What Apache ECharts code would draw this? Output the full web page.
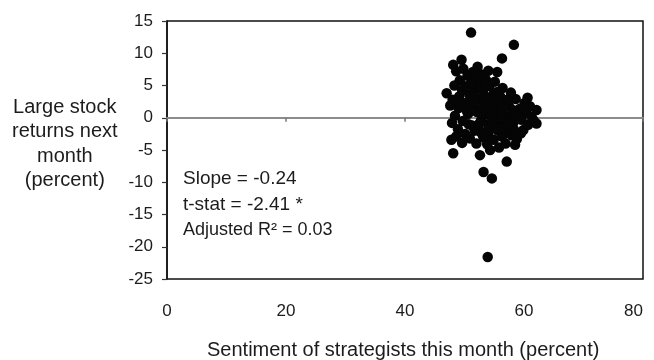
<!DOCTYPE html>
<html>
<head>
<meta charset="utf-8">
<script src="https://cdn.jsdelivr.net/npm/echarts@6/dist/echarts.min.js"></script>
<style>
  html, body { margin: 0; padding: 0; background: #fff; }
  #chart { width: 654px; height: 360px; }
</style>
</head>
<body>
<div id="chart"></div>
<script>
// Strategist sentiment (percent) vs. large stock return the following month (percent)
const sentiment = [
  51.1, 58.3, 56.3, 55.5, 60.6, 53.9, 54.6, 53.2, 57.1, 48.1, 52.6, 54.3, 58.5, 62.1, 59.9, 62.1, 49.5, 48.1, 47.0, 47.8, 52.0,
  48.6, 49.8, 50.5, 49.2, 48.3, 50.9, 51.8, 52.5, 49.6, 50.8, 48.0, 51.9, 52.9, 53.6, 53.1, 54.2, 54.8, 50.2, 49.0, 51.5,
  52.4, 53.8, 55.3, 56.0, 56.8, 57.5, 58.6, 59.3, 60.4, 61.0, 57.8, 56.4, 55.1, 54.0, 52.2,
  48.4, 49.7, 50.6, 51.3, 52.1, 52.8, 53.5, 54.1, 54.7, 55.4, 56.1, 56.7, 57.4, 58.2, 58.9, 59.6, 61.3, 60.7,
  48.9, 50.1, 50.9, 52.7, 53.3, 54.0, 54.9, 55.6, 56.3, 57.0, 57.9, 58.8, 53.8, 55.8, 56.9, 49.6, 55.2, 51.7,
  53.0, 54.5, 55.9, 52.3, 53.9, 55.0, 56.5, 54.2, 55.5, 53.3, 51.1, 57.2, 58.1, 50.0, 51.4, 49.1, 47.6, 47.9, 48.6, 58.3, 59.5, 60.1, 61.6,
  50.4, 51.6, 52.7, 53.4, 54.4, 55.7, 56.6, 57.6, 49.4, 50.7, 52.0, 53.7, 54.9, 56.2, 57.3, 51.2, 52.5, 54.6, 55.4, 53.1
];
const nextReturn = [
  13.2, 11.3, 9.2, 7.1, 3.1, -21.6, -9.4, -8.4, -6.8, -5.5, -5.8, -5.0, -4.2, -0.9, -1.9, 1.2, 9.0, 8.2, 3.8, -3.4, -4.0,
  7.2, 7.6, 6.5, 5.8, 5.0, 5.1, 6.3, 5.5, 4.2, 3.6, 2.8, 4.4, 6.7, 5.9, 4.2, 4.9, 3.6, 2.3, 1.5, 2.0,
  2.9, 2.6, 2.1, 3.3, 2.4, 1.7, 2.9, 1.4, 0.8, 1.8, 3.9, 4.6, 5.6, 7.3, 7.9,
  0.3, -0.5, 0.6, -1.2, 0.9, -0.4, 0.7, -1.0, 0.4, -0.6, 0.9, -1.3, 0.2, -0.8, 0.5, -0.3, 0.1, -1.1,
  -1.8, -2.5, -3.2, -2.2, -3.1, -2.6, -3.4, -2.0, -2.9, -2.1, -2.7, -3.3, -4.1, -4.6, -4.0, -3.9, -1.5, -2.0,
  1.6, 1.9, 1.2, -1.4, -1.9, -0.2, 0.0, 3.0, 4.0, 3.4, 1.1, 2.8, 1.2, 4.9, 7.1, 3.3, 1.9, -0.8, -2.9, -1.8, -2.4, 2.3, -0.4,
  1.0, 3.1, 4.8, 2.2, 0.2, 2.7, 1.6, -0.3, 2.1, -1.0, 6.0, 5.0, 1.0, -1.7, -1.0, 5.3, -0.9, -0.4, 3.2, -2.8
];

const xTicks = { min: 0, max: 80, step: 20 };
const yTicks = { min: -25, max: 15, step: 5 };

const yTitleLines = ['Large stock', 'returns next', 'month', '(percent)'];
const xTitle = 'Sentiment of strategists this month (percent)';
const statLines = ['Slope = -0.24', 't-stat = -2.41 *', 'Adjusted R\u00B2 = 0.03'];

const points = sentiment.map((x, i) => [x, nextReturn[i]]);

const FONT = '"Liberation Sans", Arial, sans-serif';
const INK = '#1c1c1c';

const chart = echarts.init(document.getElementById('chart'), null, { renderer: 'canvas' });

chart.setOption({
  animation: false,
  backgroundColor: '#ffffff',
  grid: {
    left: 167, right: 11, top: 21, bottom: 81,
    show: true, borderColor: '#111', borderWidth: 1.5, backgroundColor: 'transparent'
  },
  xAxis: [
    {
      type: 'value', min: xTicks.min, max: xTicks.max, interval: xTicks.step,
      position: 'bottom',
      axisLine: { show: false, onZero: false },
      axisTick: { show: false },
      splitLine: { show: false },
      axisLabel: {
        margin: 24, fontSize: 17, color: INK, fontFamily: FONT,
        alignMaxLabel: 'right'
      }
    },
    {
      // horizontal zero line with its small downward ticks
      type: 'value', min: xTicks.min, max: xTicks.max, interval: xTicks.step,
      position: 'top',
      axisLine: { show: true, onZero: true, lineStyle: { color: '#8c8c8c', width: 2 } },
      axisTick: { show: true, inside: true, length: 4, lineStyle: { color: '#777', width: 1.5 } },
      axisLabel: { show: false },
      splitLine: { show: false }
    }
  ],
  yAxis: {
    type: 'value', min: yTicks.min, max: yTicks.max, interval: yTicks.step,
    axisLine: { show: true, onZero: false, lineStyle: { color: '#111', width: 1.5 } },
    axisTick: { show: true, length: 5, lineStyle: { color: '#333', width: 1.2 } },
    splitLine: { show: false },
    axisLabel: { margin: 14, fontSize: 17, color: INK, fontFamily: FONT }
  },
  series: [{
    type: 'scatter',
    xAxisIndex: 0,
    data: points,
    symbol: 'circle',
    symbolSize: 10.5,
    itemStyle: { color: '#050505', opacity: 1 },
    z: 3
  }],
  graphic: [
    {
      type: 'text', left: 12, top: 95,
      style: {
        text: yTitleLines.join('\n'), font: '20px ' + FONT, fill: INK,
        textAlign: 'center', align: 'center', lineHeight: 24.5, width: 105
      }
    },
    {
      type: 'text', left: 183, top: 169,
      style: { text: statLines[0], font: '19px ' + FONT, fill: INK }
    },
    {
      type: 'text', left: 183, top: 195,
      style: { text: statLines[1], font: '19px ' + FONT, fill: INK }
    },
    {
      type: 'text', left: 183, top: 221,
      style: { text: statLines[2], font: '18px ' + FONT, fill: INK }
    },
    {
      type: 'text', left: 207, top: 340,
      style: { text: xTitle, font: '20px ' + FONT, fill: INK }
    }
  ]
});
</script>
</body>
</html>
